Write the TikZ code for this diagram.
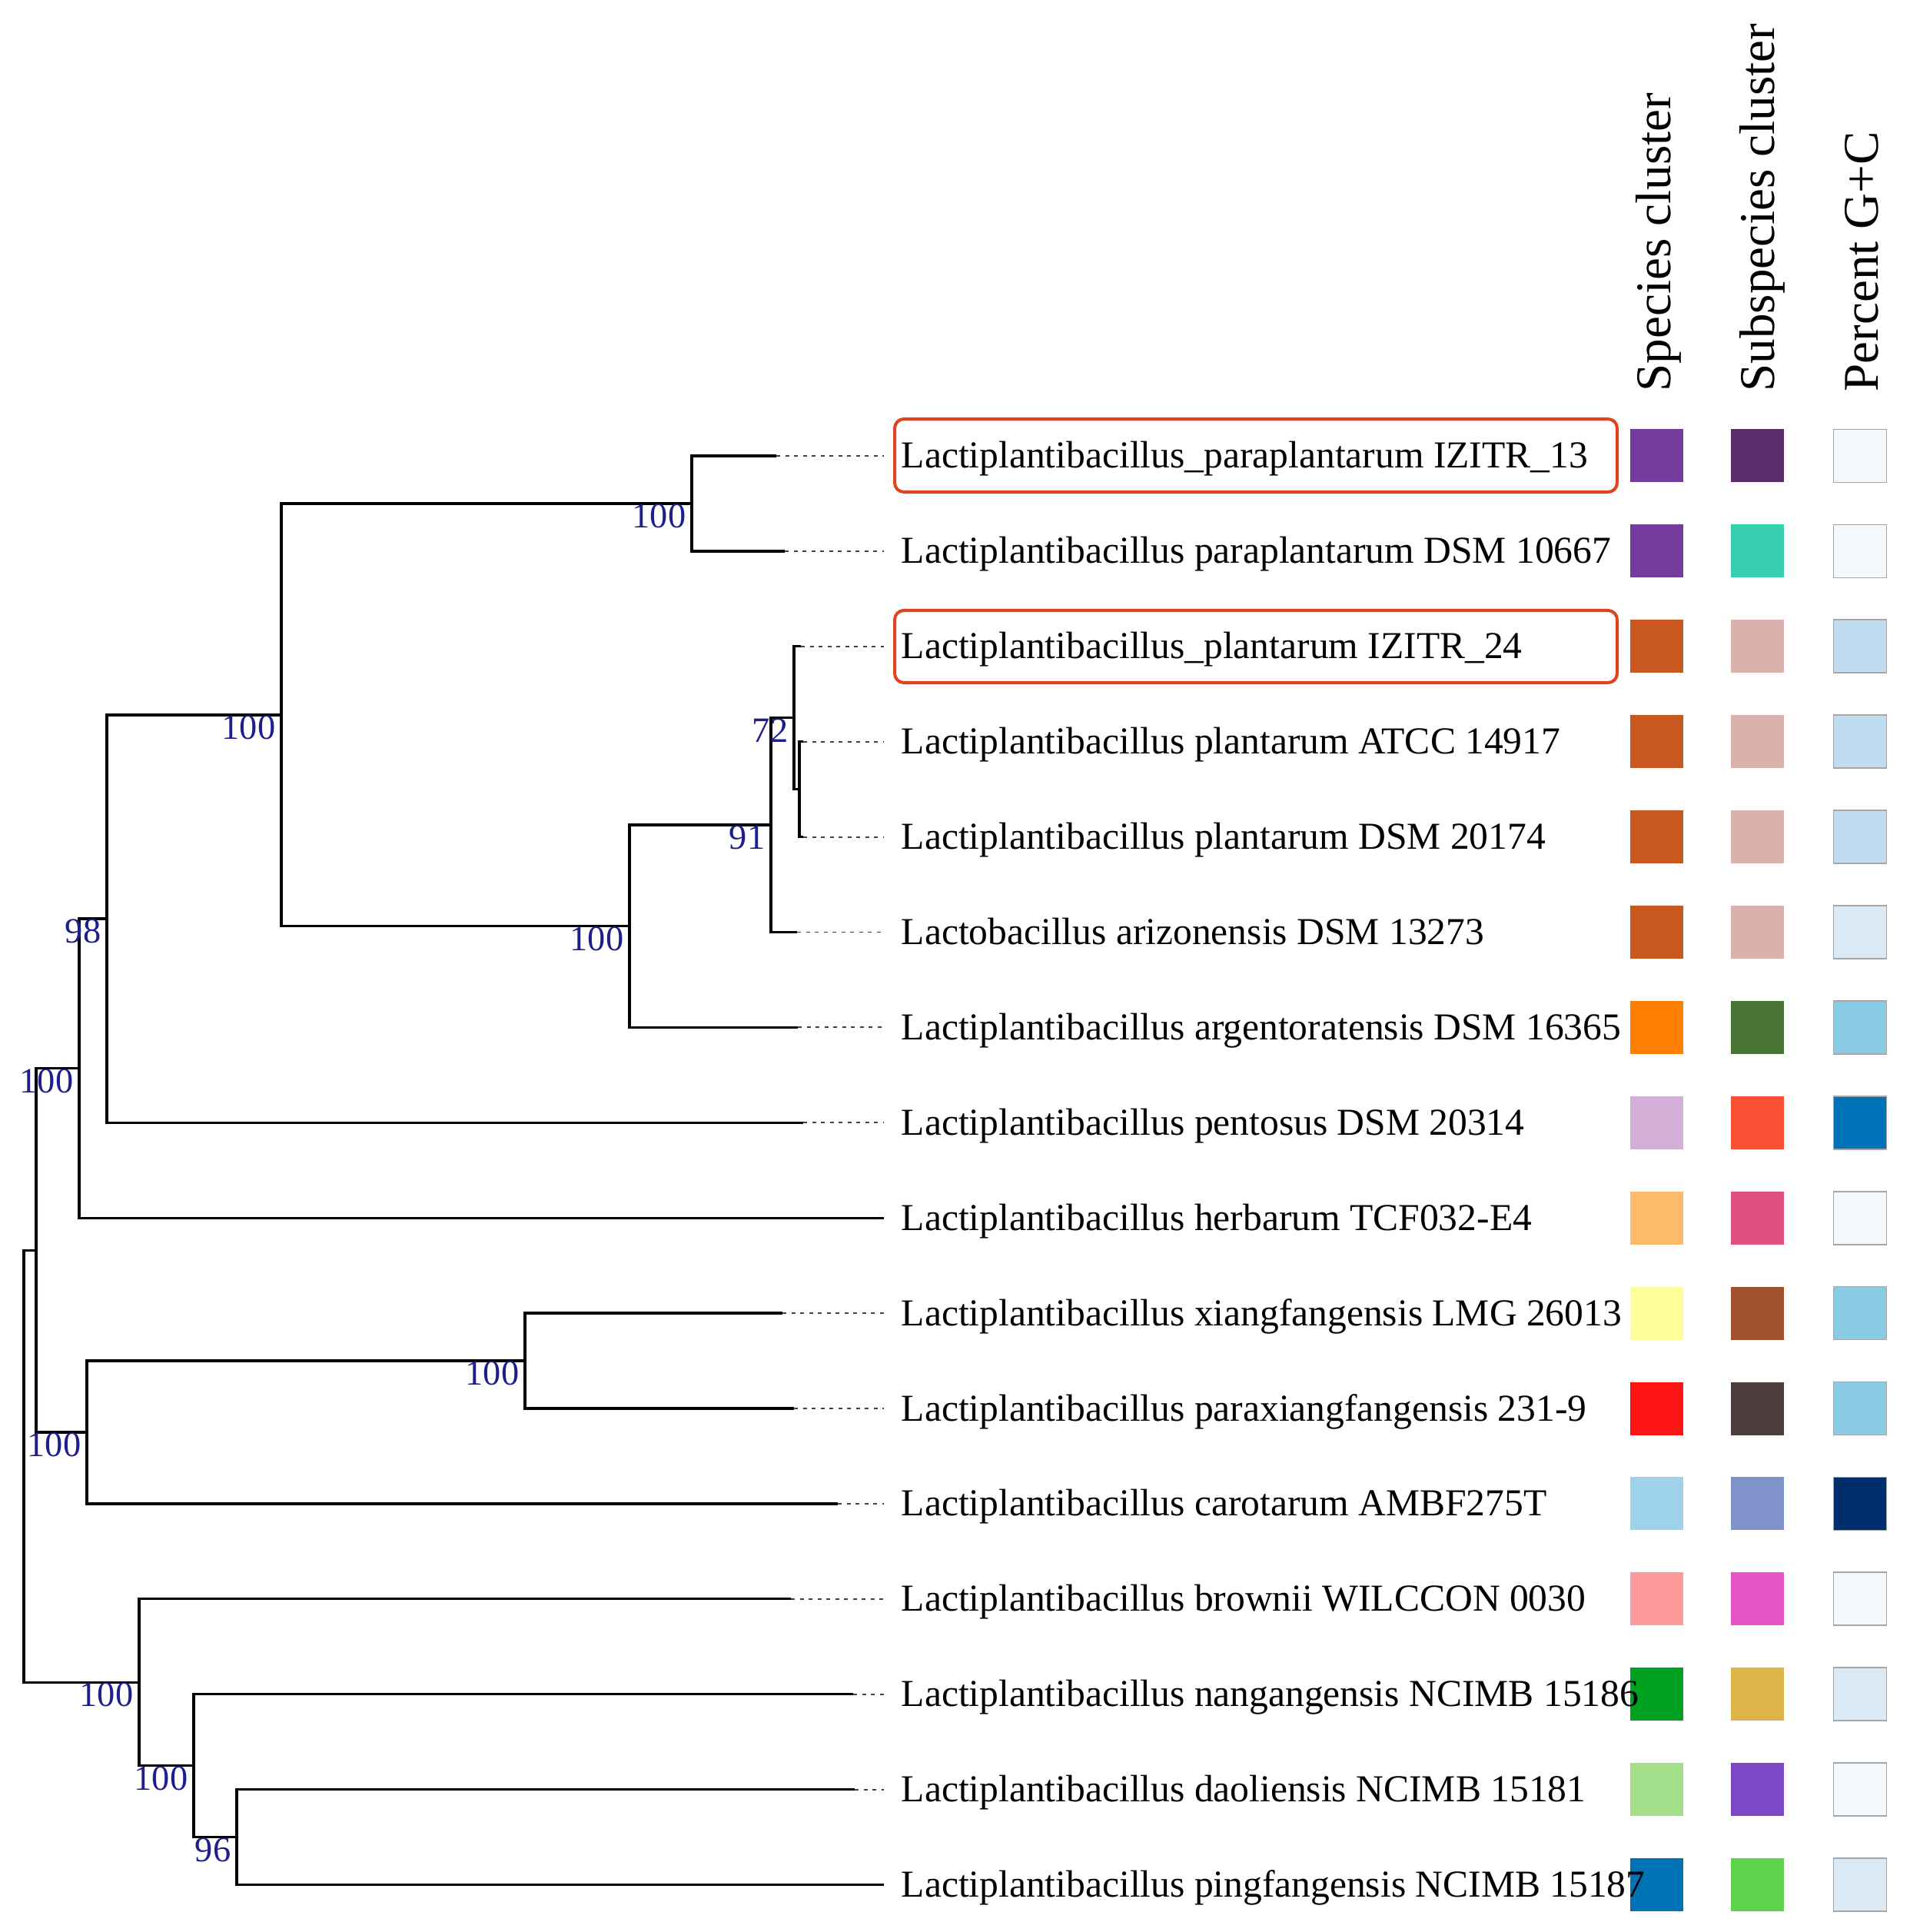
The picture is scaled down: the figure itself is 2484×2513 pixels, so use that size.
\documentclass[tikz,border=0pt]{standalone}
\usepackage{fontspec}
\setmainfont{Liberation Serif}
\definecolor{bootblue}{RGB}{30,30,140}
\definecolor{hilite}{RGB}{222,68,32}
\definecolor{purp}{HTML}{763B9C}
\definecolor{rust}{HTML}{C85820}
\definecolor{orng}{HTML}{FF7F00}
\definecolor{lilac}{HTML}{D4B0D8}
\definecolor{apricot}{HTML}{FDBB6A}
\definecolor{lemon}{HTML}{FFFF99}
\definecolor{redA}{HTML}{FF1414}
\definecolor{sky}{HTML}{9DD2E8}
\definecolor{salmon}{HTML}{FF9A9A}
\definecolor{greenA}{HTML}{00A020}
\definecolor{mint}{HTML}{A3DE8A}
\definecolor{ocean}{HTML}{0073B6}
\definecolor{plum}{HTML}{5C2B69}
\definecolor{tealA}{HTML}{36CFB0}
\definecolor{rosy}{HTML}{D9B2AC}
\definecolor{moss}{HTML}{487536}
\definecolor{tomato}{HTML}{F95136}
\definecolor{cerise}{HTML}{E15180}
\definecolor{sienna}{HTML}{A0502D}
\definecolor{umber}{HTML}{4E3D3D}
\definecolor{peri}{HTML}{7F92C9}
\definecolor{orchid}{HTML}{E655C6}
\definecolor{goldA}{HTML}{DDB448}
\definecolor{violetA}{HTML}{7A48C9}
\definecolor{limeA}{HTML}{5ED24C}
\definecolor{gcA}{HTML}{F3F8FC}
\definecolor{gcB}{HTML}{DAE9F6}
\definecolor{gcC}{HTML}{C0DCF0}
\definecolor{gcD}{HTML}{89CAE4}
\definecolor{gcE}{HTML}{0072B8}
\definecolor{gcF}{HTML}{002D6B}
\begin{document}
\begin{tikzpicture}[x=0.1mm, y=-0.1mm,
        branch/.style={line width=0.95pt},
        leader/.style={black!75, line width=0.55pt, dash pattern=on 0.5mm off 0.65mm},
        leaf/.style={anchor=base west, inner sep=0, font=\fontsize{14.1}{17}\selectfont},
        boot/.style={anchor=north east, inner sep=0, xshift=-0.7mm, text=bootblue, font=\fontsize{13.2}{15}\selectfont},
        head/.style={rotate=90, anchor=base west, inner sep=0, font=\fontsize{18.5}{22}\selectfont},
        swatch/.style={minimum size=6.9mm, inner sep=0},
        hibox/.style={draw=hilite, line width=1.15pt, rounded corners=1.2mm}]
    \useasboundingbox (0,0) rectangle (2484,2513);
    \node[head] (hSp) at (2173,510) {Species cluster};
    \node[head] (hSub) at (2308,510) {Subspecies cluster};
    \node[head] (hGC) at (2443,510) {Percent G+C};
    \foreach \i/\tx/\name/\ca/\cb/\cc [evaluate=\i as \y using 469.1+123.9*\i] in {
            1/1010/{Lactiplantibacillus\_paraplantarum IZITR\_13}/purp/plum/gcA,
            2/1021/{Lactiplantibacillus paraplantarum DSM 10667}/purp/tealA/gcA,
            3/1042/{Lactiplantibacillus\_plantarum IZITR\_24}/rust/rosy/gcC,
            4/1045/{Lactiplantibacillus plantarum ATCC 14917}/rust/rosy/gcC,
            5/1045/{Lactiplantibacillus plantarum DSM 20174}/rust/rosy/gcC,
            6/1037/{Lactobacillus arizonensis DSM 13273}/rust/rosy/gcB,
            7/1038/{Lactiplantibacillus argentoratensis DSM 16365}/orng/moss/gcD,
            8/1045/{Lactiplantibacillus pentosus DSM 20314}/lilac/tomato/gcE,
            9/1150/{Lactiplantibacillus herbarum TCF032-E4}/apricot/cerise/gcA,
            10/1018/{Lactiplantibacillus xiangfangensis LMG 26013}/lemon/sienna/gcD,
            11/1033/{Lactiplantibacillus paraxiangfangensis 231-9}/redA/umber/gcD,
            12/1090/{Lactiplantibacillus carotarum AMBF275T}/sky/peri/gcF,
            13/1029/{Lactiplantibacillus brownii WILCCON 0030}/salmon/orchid/gcA,
            14/1110/{Lactiplantibacillus nangangensis NCIMB 15186}/greenA/goldA/gcB,
            15/1112/{Lactiplantibacillus daoliensis NCIMB 15181}/mint/violetA/gcA,
            16/1150/{Lactiplantibacillus pingfangensis NCIMB 15187}/ocean/limeA/gcB} {
        \coordinate (t\i) at (\tx,\y);
        \coordinate (e\i) at (1150,\y);
        \draw[leader] (t\i) -- (e\i);
        \node[swatch, fill=\ca] (sp\i) at (2155,\y) {};
        \node[swatch, fill=\cb] (ss\i) at (2286,\y) {};
        \node[swatch, fill=\cc, draw=gray!70, line width=0.5pt] (gc\i) at (2420,\y) {};
        \node[leaf] (l\i) at (1172,\y+16) {\name};
    }
    \foreach \n/\x/\y in {A/900/655, F/1040/1026.6, E/1033/933.7, D/1003/1073.1, C/819/1204.8,
            B/366/929.9, H/139/1195.1, G/103/1389.6, K/683/1770, J/113/1863,
            N/308/2389.6, M/252/2296.6, L/181/2188.2, I/47/1626.3, R/31/1907.2}
        \coordinate (n\n) at (\x,\y);
    \draw[branch] (t1) -| (nA) |- (t2);
    \draw[branch] (t4) -| (nF) |- (t5);
    \draw[branch] (t3) -| (nE) |- (nF);
    \draw[branch] (nE) -| (nD) |- (t6);
    \draw[branch] (nD) -| (nC) |- (t7);
    \draw[branch] (nA) -| (nB) |- (nC);
    \draw[branch] (nB) -| (nH) |- (t8);
    \draw[branch] (nH) -| (nG) |- (t9);
    \draw[branch] (t10) -| (nK) |- (t11);
    \draw[branch] (nK) -| (nJ) |- (t12);
    \draw[branch] (nG) -| (nI) |- (nJ);
    \draw[branch] (t15) -| (nN) |- (t16);
    \draw[branch] (t14) -| (nM) |- (nN);
    \draw[branch] (t13) -| (nL) |- (nM);
    \draw[branch] (nI) -| (nR) |- (nL);
    \foreach \n/\v in {A/100, E/72, D/91, C/100, B/100, H/98, G/100, K/100, J/100, L/100, M/100, N/96}
        \node[boot] (b\n) at (n\n) {\v};
    \draw[hibox] (1164,545) rectangle (2104,640);
    \draw[hibox] (1164,794) rectangle (2104,888);
\end{tikzpicture}
\end{document}
